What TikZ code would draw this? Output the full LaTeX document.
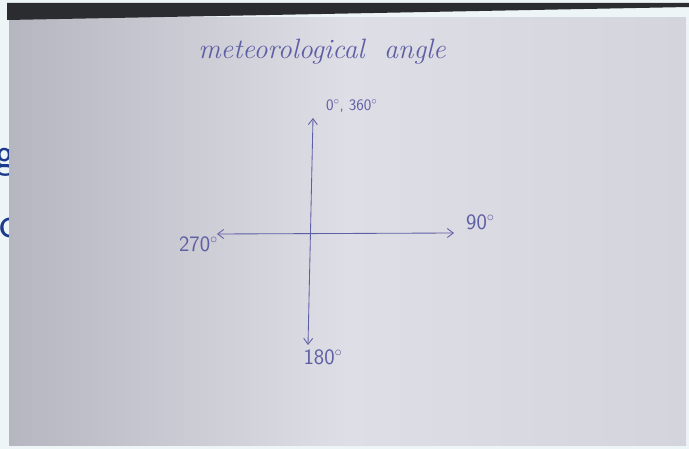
\documentclass[tikz,border=0pt]{standalone}
\usepackage{amsmath, amssymb}
\usepackage{tikz}
\usetikzlibrary{arrows.meta}

\definecolor{bgblue}{HTML}{EEF5F7}
\definecolor{slideblue}{HTML}{1B3A8C}
\definecolor{band}{HTML}{2A2C30}
\definecolor{paperl}{HTML}{B6B6C0}
\definecolor{paperm}{HTML}{DEDEE6}
\definecolor{paperr}{HTML}{D4D4DC}
\definecolor{ink}{HTML}{5E5EA4}

\begin{document}
\begin{tikzpicture}[x=1pt, y=-1pt,
		axis/.style={ink, line width=0.85pt, {Straight Barb[length=6pt,width=9pt]}-{Straight Barb[length=6pt,width=9pt]}},
		lbl/.style={ink, inner sep=0pt, font=\sffamily\fontsize{22}{22}\selectfont},
		small/.style={ink, inner sep=0pt, font=\sffamily\fontsize{16}{16}\selectfont}]
		\useasboundingbox (0,0) rectangle (689,449);
		% 背景
		\fill[bgblue] (0,0) rectangle (689,449);
		% 左侧幻灯片文字（被遮住）
		\node[slideblue, anchor=east, inner sep=0pt, font=\sffamily\fontsize{44}{44}\selectfont] (sg) at (16,162) {g};
		\node[slideblue, anchor=east, inner sep=0pt, font=\sffamily\fontsize{44}{44}\selectfont] (so) at (20,228) {o};
		% 纸张
		\shade[left color=paperl, right color=paperr, middle color=paperm] (9,18) rectangle (686,445);
		\fill[band] (7,3) -- (689,3) -- (689,7) -- (7,20) -- cycle;
		
		% 标题
		\node[ink, font=\itshape\fontsize{28}{28}\selectfont] (title) at (322,52) {meteorological\ \ angle};
		
		% 坐标轴端点
		\coordinate (n) at (313,118);
		\coordinate (s) at (308,345);
		\coordinate (w) at (217,234);
		\coordinate (e) at (454,233);
		\draw[axis] (s) -- (n);
		\draw[axis] (w) -- (e);
		
		% 角度标注
		\node[small, anchor=west] (north) at (326,106) {0$^\circ$, 360$^\circ$};
		\node[lbl, anchor=west] (east) at (466,222) {90$^\circ$};
		\node[lbl, anchor=east] (west) at (218,244) {270$^\circ$};
		\node[lbl] (south) at (323,357) {180$^\circ$};
	\end{tikzpicture}
\end{document}
